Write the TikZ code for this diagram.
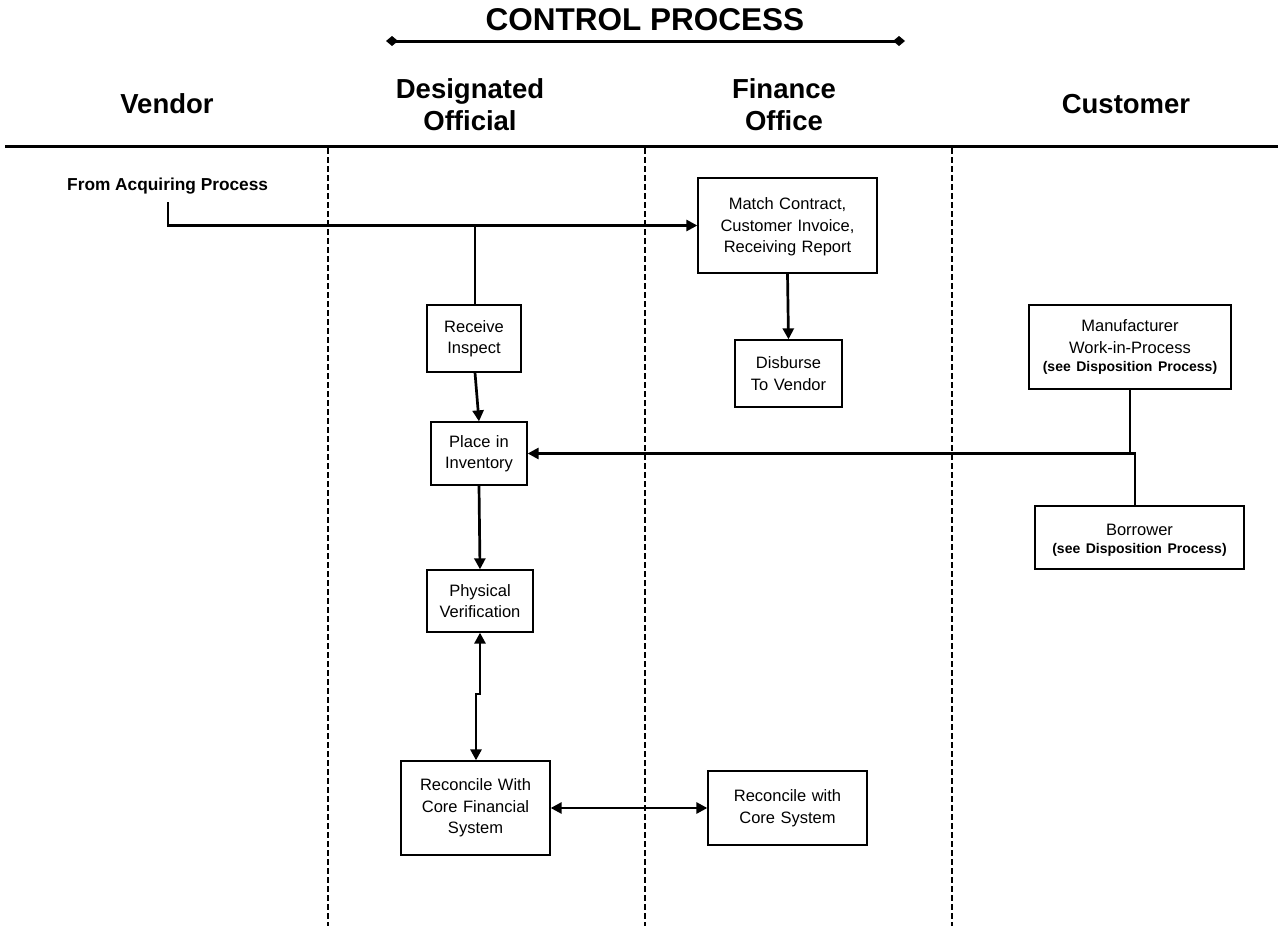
\documentclass[tikz,border=0pt]{standalone}
\usepackage{fontspec}
\setmainfont{Liberation Sans}
\usetikzlibrary{arrows.meta}
\begin{document}
\begin{tikzpicture}[x=1pt,y=-1pt,
  bx/.style 2 args={draw, line width=1.3pt, align=center, inner sep=0pt,
     text width=#1pt, minimum height=#2pt, font=\fontsize{16.5}{21.5}\selectfont},
  hdr/.style={align=center, font=\bfseries\fontsize{27.5}{32}\selectfont},
  tip/.tip={Triangle[length=11pt,width=11pt]},
  conn/.style={line width=2.7pt, -tip},
  both/.style={line width=2.7pt, tip-tip},
  plain/.style={line width=2.7pt},
  lane/.style={line width=1.9pt, dash pattern=on 6pt off 3pt},
  see/.style={font=\bfseries\fontsize{14}{17}\selectfont}
]
\useasboundingbox (0,0) rectangle (1278,926);

% title
\node[font=\bfseries\fontsize{31.5}{36}\selectfont] (title) at (645,20) {CONTROL PROCESS};
\coordinate (tl) at (386,41);
\coordinate (tr) at (905,41);
\draw[line width=3pt, {Diamond[length=12pt,width=10pt]}-{Diamond[length=12pt,width=10pt]}] (tl) -- (tr);

% headers
\node[hdr] (hv) at (167,104) {Vendor};
\node[hdr] (hd) at (470,105) {Designated\\Official};
\node[hdr] (hf) at (784,105) {Finance\\Office};
\node[hdr] (hc) at (1126,104) {Customer};
\coordinate (hl) at (5,146);
\coordinate (hr) at (1278,146);
\draw[line width=3pt] (hl) -- (hr);

% lanes
\coordinate (l1t) at (328,148); \coordinate (l1b) at (328,926);
\coordinate (l2t) at (645,148); \coordinate (l2b) at (645,926);
\coordinate (l3t) at (952,148); \coordinate (l3b) at (952,926);
\draw[lane] (l1t) -- (l1b);
\draw[lane] (l2t) -- (l2b);
\draw[lane] (l3t) -- (l3b);

% nodes
\node[font=\bfseries\fontsize{17.3}{20}\selectfont, anchor=west, inner sep=0pt] (acq) at (67,186) {From Acquiring Process};
\coordinate (acqs) at (168,202);

\node[bx={179}{95}] (match) at (787.5,225.5) {\rule{0pt}{15pt}Match Contract,\\Customer Invoice,\\Receiving Report};
\node[bx={107}{67}] (disb) at (788.5,373.5) {Disburse\\To Vendor};
\node[bx={94}{67}] (recv) at (474,338.5) {Receive\\Inspect};
\node[bx={96}{63}] (place) at (479,453.5) {Place in\\Inventory};
\node[bx={106}{62}] (pv) at (480,601) {Physical\\Verification};
\node[bx={149}{94}] (rwcfs) at (475.5,808) {Reconcile With\\Core Financial\\System};
\node[bx={159}{74}] (rwcs) at (787.5,808) {Reconcile with\\Core System};
\node[bx={202}{84}] (mfr) at (1130,347) {Manufacturer\\Work-in-Process\\[-3pt]{\bfseries\fontsize{14}{17}\selectfont(see Disposition Process)}};
\node[bx={209}{63}] (bor) at (1139.5,537.5) {\rule{0pt}{17pt}Borrower\\[-3pt]{\bfseries\fontsize{14}{17}\selectfont(see Disposition Process)}};

% connectors
\draw[conn] (acqs) |- (match.west);
\coordinate (junc) at (475,225.5);
\draw[plain] (junc) -- (junc |- recv.north);
\draw[conn] (match.south) -- (disb.north);
\draw[conn] ([xshift=1pt]recv.south) -- (place.north);
\draw[conn] (place.south) -- (pv.north);
\coordinate (j1) at (480,694);
\coordinate (j2) at (476,698);
\draw[both] (pv.south) -- (pv.south |- j1) -- (j2 |- j1) -- (j2) -- (j2 |- rwcfs.north);
\draw[both] (rwcfs.east) -- (rwcs.west);
\draw[plain] (mfr.south) -- (mfr.south |- place.east);
\draw[conn] ([xshift=-4.5pt]bor.north) |- (place.east);
\end{tikzpicture}
\end{document}
